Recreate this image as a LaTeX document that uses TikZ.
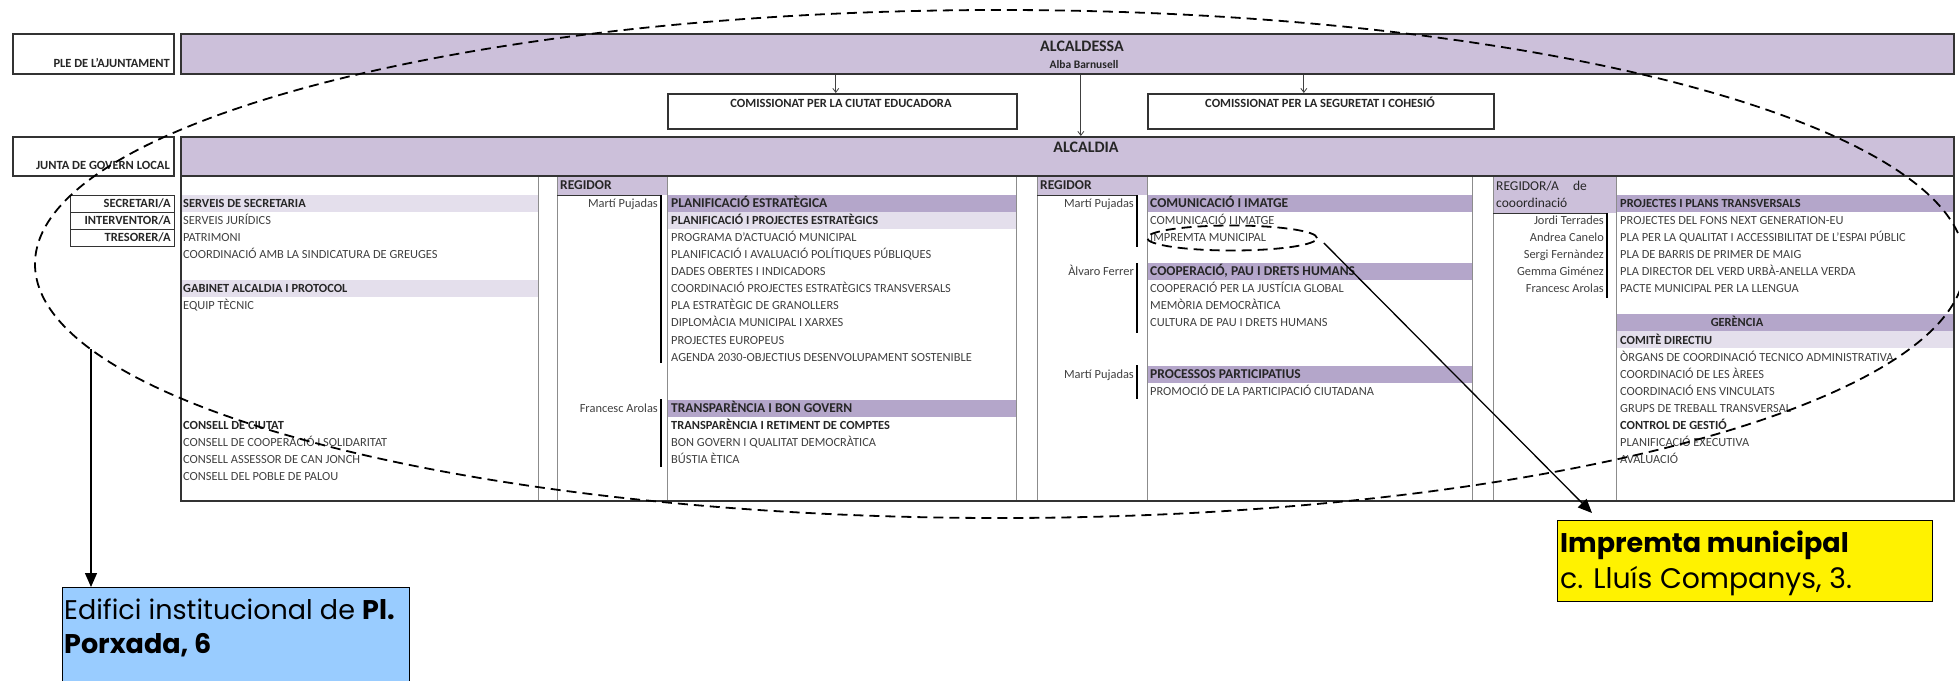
\documentclass[tikz,border=0pt]{standalone}
\usepackage{fontspec}
\setmainfont{Carlito}
\newfontfamily\gothic{Poppins}
\usetikzlibrary{arrows.meta,shapes.geometric}
\definecolor{barpurple}{HTML}{CCC0DA}
\definecolor{headpurple}{HTML}{B4A6CA}
\definecolor{lightpurple}{HTML}{E4DFEC}
\definecolor{txt}{HTML}{404040}
\definecolor{txtdark}{HTML}{262626}
\definecolor{framecol}{HTML}{333333}
\definecolor{gridgray}{HTML}{8C8C8C}
\definecolor{skyblue}{HTML}{99CCFF}
\begin{document}
\begin{tikzpicture}[x=1pt,y=-1pt,
  frm/.style={draw=framecol, line width=1.6pt, inner sep=0pt, anchor=north west},
  barbox/.style={frm, fill=barpurple},
  item/.style={anchor=base west, inner sep=0pt, text=txt, font=\fontsize{12.4}{14}\selectfont},
  itemb/.style={item, text=txtdark, font=\fontsize{12.4}{14}\selectfont\bfseries},
  headtxt/.style={item, text=txtdark, font=\fontsize{13.5}{15}\selectfont\bfseries},
  person/.style={anchor=base east, inner sep=0pt, text=txt, font=\fontsize{12.4}{14}\selectfont},
  lbl/.style={anchor=base east, inner sep=0pt, text=txtdark, font=\fontsize{12.5}{14}\selectfont\bfseries},
  gridline/.style={draw=gridgray, line width=0.9pt},
  brk/.style={draw=black, line width=1.4pt},
  thinbrk/.style={draw=framecol, line width=0.7pt},
  conn/.style={draw=black!75, line width=0.8pt, -{Straight Barb[length=4pt,width=6pt]}},
  callarrow/.style={draw=black, line width=1.3pt, -{Triangle[length=14pt,width=12pt]}},
  dashring/.style={draw=black, line width=1.8pt, dash pattern=on 10pt off 6pt, ellipse, inner sep=0pt},
  gothtxt/.style={anchor=base west, inner sep=0pt, text=black, font=\gothic\fontsize{27}{32}\selectfont},
]
\useasboundingbox (0,0) rectangle (1959,680);

% ---------- top rows ----------
\node[frm, minimum width=161pt, minimum height=40pt] (ple) at (12,33) {};
\node[lbl] (pletxt) at (170,67) {PLE DE L'AJUNTAMENT};
\node[barbox, minimum width=1773pt, minimum height=40pt] (alcaldessa) at (180,33) {};
\node[anchor=base, inner sep=0pt, text=txtdark, font=\fontsize{16}{18}\selectfont\bfseries] (alctxt) at (1082,51.5) {ALCALDESSA};
\node[anchor=base, inner sep=0pt, text=txtdark, font=\fontsize{11.5}{13}\selectfont\bfseries] (albatxt) at (1084,68) {Alba Barnusell};

\node[frm, minimum width=349pt, minimum height=35pt] (com1) at (667,93) {};
\node[anchor=base, inner sep=0pt, text=txtdark, font=\fontsize{12.5}{14}\selectfont\bfseries] (com1txt) at (841,107) {COMISSIONAT PER LA CIUTAT EDUCADORA};
\node[frm, minimum width=346pt, minimum height=35pt] (com2) at (1147,93) {};
\node[anchor=base, inner sep=0pt, text=txtdark, font=\fontsize{12.5}{14}\selectfont\bfseries] (com2txt) at (1320,107) {COMISSIONAT PER LA SEGURETAT I COHESIÓ};

\node[frm, minimum width=161pt, minimum height=39pt] (junta) at (12,136) {};
\node[lbl] (juntatxt) at (170,169) {JUNTA DE GOVERN LOCAL};
\node[barbox, minimum width=1773pt, minimum height=39pt] (alcaldia) at (180,136) {};
\node[anchor=base, inner sep=0pt, text=txtdark, font=\fontsize{16}{18}\selectfont\bfseries] (alcdtxt) at (1086,152.5) {ALCALDIA};

\coordinate (s1) at ([xshift=-231.5pt]alcaldessa.south);
\coordinate (s2) at ([xshift=13.5pt]alcaldessa.south);
\coordinate (s3) at ([xshift=236.5pt]alcaldessa.south);
\draw[conn] (s1) -- (s1 |- com1.north);
\draw[conn] (s2) -- (s2 |- alcaldia.north);
\draw[conn] (s3) -- (s3 |- com2.north);

% ---------- table bands ----------
\fill[barpurple] (557,175) rectangle (667,195);
\fill[barpurple] (1037,175) rectangle (1147,195);
\fill[barpurple] (1493,175) rectangle (1616,213);
\fill[lightpurple] (180,194.5) rectangle (538,211.5);
\fill[lightpurple] (180,280) rectangle (538,297);
\fill[headpurple] (667,194.5) rectangle (1016,211.5);
\fill[lightpurple] (667,211.6) rectangle (1016,228.6);
\fill[headpurple] (667,399.7) rectangle (1016,416.7);
\fill[headpurple] (1147,194.5) rectangle (1472,211.5);
\fill[headpurple] (1147,262.9) rectangle (1472,279.9);
\fill[headpurple] (1147,365.5) rectangle (1472,382.5);
\fill[headpurple] (1616,194.5) rectangle (1953,211.5);
\fill[headpurple] (1616,314.2) rectangle (1953,331.2);
\fill[lightpurple] (1616,331.3) rectangle (1953,348.3);

\foreach \gx in {538,557,667,1016,1037,1147,1472,1493,1616}
  \draw[gridline] (\gx,175) -- (\gx,500);

\node[frm, minimum width=1773pt, minimum height=325pt] (table) at (180,175) {};

\draw[thinbrk] (557,195) -- (661,195);
\draw[brk] (661,195) -- (661,363);
\draw[brk] (661,399) -- (661,467);
\draw[thinbrk] (1037,195) -- (1137,195);
\draw[brk] (1137,195) -- (1137,247);
\draw[brk] (1137,263) -- (1137,333);
\draw[brk] (1137,365) -- (1137,399);
\draw[thinbrk] (1493,213) -- (1607,213);
\draw[brk] (1607,213) -- (1607,298);

\node[frm, minimum width=104pt, minimum height=17.1pt, line width=1.4pt] (sec) at (70,194.5) {};
\node[frm, minimum width=104pt, minimum height=17.1pt, line width=1.4pt] (int) at (70,211.6) {};
\node[frm, minimum width=104pt, minimum height=17.1pt, line width=1.4pt] (tre) at (70,228.7) {};
\node[lbl] (sectxt) at (171,207.2) {SECRETARI/A};
\node[lbl] (inttxt) at (171,224.3) {INTERVENTOR/A};
\node[lbl] (tretxt) at (171,241.4) {TRESORER/A};

% ---------- column 1 ----------
\node[itemb] (a0) at (183,207.2) {SERVEIS DE SECRETARIA};
\node[item] (a1) at (183,224.3) {SERVEIS JURÍDICS};
\node[item] (a2) at (183,241.4) {PATRIMONI};
\node[item] (a3) at (183,258.5) {COORDINACIÓ AMB LA SINDICATURA DE GREUGES};
\node[itemb] (a5) at (183,292.7) {GABINET ALCALDIA I PROTOCOL};
\node[item] (a6) at (183,309.8) {EQUIP TÈCNIC};
\node[itemb] (a13) at (183,429.5) {CONSELL DE CIUTAT};
\node[item] (a14) at (183,446.6) {CONSELL DE COOPERACIÓ I SOLIDARITAT};
\node[item] (a15) at (183,463.7) {CONSELL ASSESSOR DE CAN JONCH};
\node[item] (a16) at (183,480.8) {CONSELL DEL POBLE DE PALOU};

% ---------- column 2 ----------
\node[headtxt] (reg1) at (560,189.5) {REGIDOR};
\node[person] (p1) at (658,207.2) {Martí Pujadas};
\node[person] (p2) at (658,412.4) {Francesc Arolas};
\node[headtxt] (b0) at (671,207.2) {PLANIFICACIÓ ESTRATÈGICA};
\node[itemb] (b1) at (671,224.3) {PLANIFICACIÓ I PROJECTES ESTRATÈGICS};
\node[item] (b2) at (671,241.4) {PROGRAMA D'ACTUACIÓ MUNICIPAL};
\node[item] (b3) at (671,258.5) {PLANIFICACIÓ I AVALUACIÓ POLÍTIQUES PÚBLIQUES};
\node[item] (b4) at (671,275.6) {DADES OBERTES I INDICADORS};
\node[item] (b5) at (671,292.7) {COORDINACIÓ PROJECTES ESTRATÈGICS TRANSVERSALS};
\node[item] (b6) at (671,309.8) {PLA ESTRATÈGIC DE GRANOLLERS};
\node[item] (b7) at (671,326.9) {DIPLOMÀCIA MUNICIPAL I XARXES};
\node[item] (b8) at (671,344.0) {PROJECTES EUROPEUS};
\node[item] (b9) at (671,361.1) {AGENDA 2030-OBJECTIUS DESENVOLUPAMENT SOSTENIBLE};
\node[headtxt] (b12) at (671,412.4) {TRANSPARÈNCIA I BON GOVERN};
\node[itemb] (b13) at (671,429.5) {TRANSPARÈNCIA I RETIMENT DE COMPTES};
\node[item] (b14) at (671,446.6) {BON GOVERN I QUALITAT DEMOCRÀTICA};
\node[item] (b15) at (671,463.7) {BÚSTIA ÈTICA};

% ---------- column 3 ----------
\node[headtxt] (reg2) at (1040,189.5) {REGIDOR};
\node[person] (p3) at (1134,207.2) {Martí Pujadas};
\node[person] (p4) at (1134,275.6) {Àlvaro Ferrer};
\node[person] (p5) at (1134,378.2) {Martí Pujadas};
\node[headtxt] (c0) at (1150,207.2) {COMUNICACIÓ I IMATGE};
\node[item] (c1) at (1150,224.3) {COMUNICACIÓ I IMATGE};
\node[item] (c2) at (1150,241.4) {IMPREMTA MUNICIPAL};
\node[headtxt] (c4) at (1150,275.6) {COOPERACIÓ, PAU I DRETS HUMANS};
\node[item] (c5) at (1150,292.7) {COOPERACIÓ PER LA JUSTÍCIA GLOBAL};
\node[item] (c6) at (1150,309.8) {MEMÒRIA DEMOCRÀTICA};
\node[item] (c7) at (1150,326.9) {CULTURA DE PAU I DRETS HUMANS};
\node[headtxt] (c10) at (1150,378.2) {PROCESSOS PARTICIPATIUS};
\node[item] (c11) at (1150,395.3) {PROMOCIÓ DE LA PARTICIPACIÓ CIUTADANA};

% ---------- column 4 ----------
\node[anchor=base west, inner sep=0pt, text=txtdark, font=\fontsize{13.5}{15}\selectfont] (reg3a) at (1496,190.5) {REGIDOR/A\hspace{14pt}de};
\node[anchor=base west, inner sep=0pt, text=txtdark, font=\fontsize{13.5}{15}\selectfont] (reg3b) at (1496,207.5) {cooordinació};
\node[person] (p6) at (1604,224.3) {Jordi Terrades};
\node[person] (p7) at (1604,241.4) {Andrea Canelo};
\node[person] (p8) at (1604,258.5) {Sergi Fernàndez};
\node[person] (p9) at (1604,275.6) {Gemma Giménez};
\node[person] (p10) at (1604,292.7) {Francesc Arolas};
\node[itemb] (d0) at (1620,207.2) {PROJECTES I PLANS TRANSVERSALS};
\node[item] (d1) at (1620,224.3) {PROJECTES DEL FONS NEXT GENERATION-EU};
\node[item] (d2) at (1620,241.4) {PLA PER LA QUALITAT I ACCESSIBILITAT DE L'ESPAI PÚBLIC};
\node[item] (d3) at (1620,258.5) {PLA DE BARRIS DE PRIMER DE MAIG};
\node[item] (d4) at (1620,275.6) {PLA DIRECTOR DEL VERD URBÀ-ANELLA VERDA};
\node[item] (d5) at (1620,292.7) {PACTE MUNICIPAL PER LA LLENGUA};
\node[itemb, anchor=base] (d7) at (1737,326.9) {GERÈNCIA};
\node[itemb] (d8) at (1620,344.0) {COMITÈ DIRECTIU};
\node[item] (d9) at (1620,361.1) {ÒRGANS DE COORDINACIÓ TECNICO ADMINISTRATIVA};
\node[item] (d10) at (1620,378.2) {COORDINACIÓ DE LES ÀREES};
\node[item] (d11) at (1620,395.3) {COORDINACIÓ ENS VINCULATS};
\node[item] (d12) at (1620,412.4) {GRUPS DE TREBALL TRANSVERSAL};
\node[itemb] (d13) at (1620,429.5) {CONTROL DE GESTIÓ};
\node[item] (d14) at (1620,446.6) {PLANIFICACIÓ EXECUTIVA};
\node[item] (d15) at (1620,463.7) {AVALUACIÓ};

% ---------- dashed rings ----------
\node[dashring, minimum width=1930pt, minimum height=508pt] (bigring) at (1000,264) {};
\node[dashring, minimum width=170pt, minimum height=25pt] (smallring) at (1232,238) {};

% ---------- callout boxes ----------
\node[draw=black, line width=1.2pt, fill=skyblue, anchor=north west, inner sep=0pt, minimum width=347pt, minimum height=120pt] (edifici) at (62,587) {};
\node[gothtxt] (ed1) at (64,619) {Edifici institucional de \textbf{Pl.}};
\node[gothtxt] (ed2) at (64,653) {\textbf{Porxada, 6}};

\node[draw=black, line width=1.4pt, fill=yellow, anchor=north west, inner sep=0pt, minimum width=375pt, minimum height=81pt] (imp) at (1557,520) {};
\node[gothtxt] (im1) at (1560,552) {\textbf{Impremta municipal}};
\node[gothtxt, font=\gothic\fontsize{28.3}{32}\selectfont] (im2) at (1560,588) {c. Lluís Companys, 3.};

% ---------- callout arrows ----------
\coordinate (ringpt) at (91,349);
\draw[callarrow] (ringpt) -- (ringpt |- edifici.north);
\draw[callarrow] ([xshift=6pt,yshift=-5pt]smallring.east) -- ([xshift=35pt,yshift=7pt]imp.north west);
\end{tikzpicture}
\end{document}
